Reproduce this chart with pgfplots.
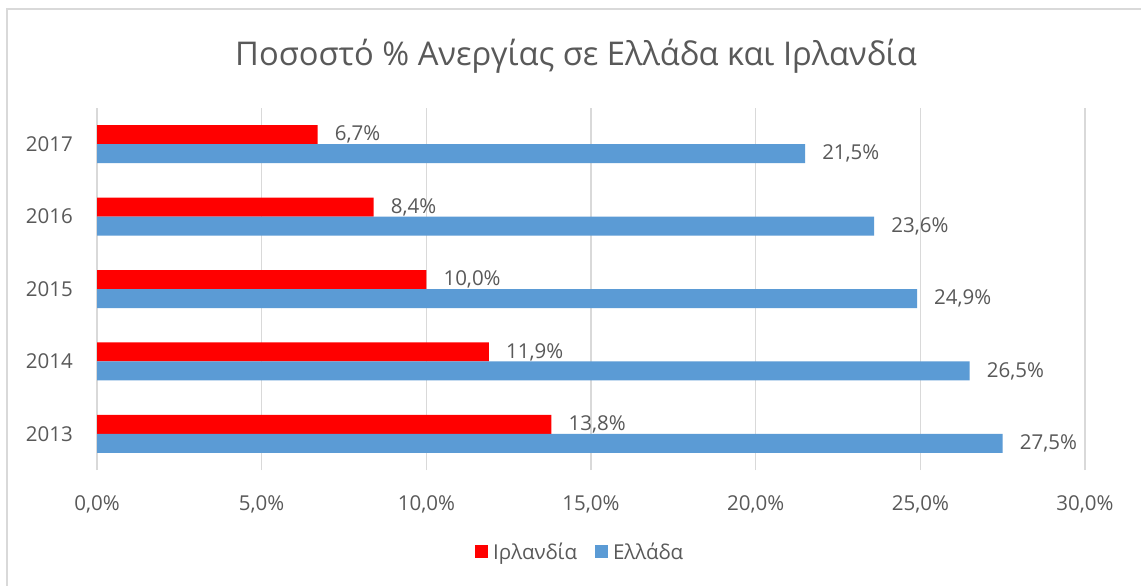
\documentclass[border=0pt]{standalone}
\usepackage{pgfplots}
\pgfplotsset{compat=1.18}
\usepackage{fontspec}
\setmainfont{Open Sans}
\definecolor{ired}{HTML}{FF0000}
\definecolor{gblue}{HTML}{5B9BD5}
\definecolor{gridgray}{HTML}{D9D9D9}
\definecolor{txtgray}{HTML}{595959}
\begin{document}
\begin{tikzpicture}[x=1pt,y=1pt]
\useasboundingbox (0,0) rectangle (1141,-586);
\fill[white] (0,0) rectangle (1141,-586);
\draw[gridgray,line width=2pt] (7,-586) -- (7,-9) -- (1141,-9);
\node[text=txtgray,font=\fontsize{32.7}{39}\selectfont,anchor=base] at (576,-66) {Ποσοστό \% Ανεργίας σε Ελλάδα και Ιρλανδία};
\begin{axis}[
  at={(97pt,-470pt)}, anchor=south west,
  scale only axis, width=988pt, height=362pt,
  xmin=0, xmax=30, ymin=-0.5, ymax=4.5,
  enlargelimits=false, clip=false,
  xbar, bar width=19pt,
  axis line style={draw=none},
  major tick length=0pt,
  xmajorgrids, grid style={gridgray,line width=1.5pt},
  xtick={0,5,10,15,20,25,30},
  xticklabels={{0,0\%},{5,0\%},{10,0\%},{15,0\%},{20,0\%},{25,0\%},{30,0\%}},
  ytick={0,1,2,3,4},
  yticklabels={2013,2014,2015,2016,2017},
  tick label style={text=txtgray,font=\fontsize{20.5}{24}\selectfont},
  xticklabel style={anchor=north,inner sep=0pt,yshift=-25pt},
  yticklabel style={anchor=east,inner sep=0pt,xshift=-24pt},
  point meta=x,
  nodes near coords={\pgfmathprintnumber[fixed,fixed zerofill,precision=1,use comma,assume math mode=true]{\pgfplotspointmeta}\%},
  every node near coord/.style={anchor=west,text=txtgray,font=\fontsize{20.5}{24}\selectfont,inner sep=0pt,xshift=17pt},
  legend columns=2,
  legend style={at={(0.488,-0.2265)},anchor=center,draw=none,fill=none,
    font=\fontsize{20.5}{24}\selectfont,text=txtgray,
    /tikz/every odd column/.append style={column sep=5pt},
    /tikz/every even column/.append style={column sep=18pt},
    nodes={inner sep=0pt}},
  legend image code/.code={\fill[#1,draw=none] (0pt,-6.5pt) rectangle (13pt,6.5pt);},
]
\addplot[fill=ired,draw=none,bar shift=9.5pt,every node near coord/.append style={yshift=9.5pt}] coordinates {(13.8,0) (11.9,1) (10.0,2) (8.4,3) (6.7,4)};
\addplot[fill=gblue,draw=none,bar shift=-9.5pt,every node near coord/.append style={yshift=-9.5pt}] coordinates {(27.5,0) (26.5,1) (24.9,2) (23.6,3) (21.5,4)};
\legend{Ιρλανδία,Ελλάδα}
\end{axis}
\end{tikzpicture}
\end{document}
